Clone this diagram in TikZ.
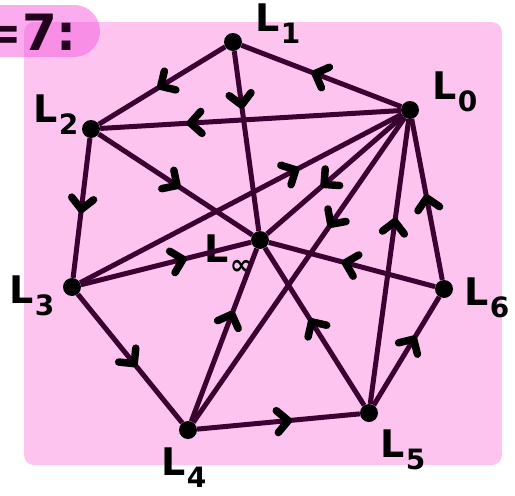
\documentclass[tikz,border=0pt]{standalone}
\usepackage{fontspec}
\setmainfont{DejaVu Sans}
\definecolor{bgpink}{RGB}{253, 196, 240}
\definecolor{tagpink}{RGB}{246, 90, 222}
\definecolor{plum}{RGB}{58, 0, 48}
\usetikzlibrary{decorations.markings}
\tikzset{
	vdot/.style={circle, fill=black, inner sep=0pt, minimum size=18pt},
	lbl/.style={font=\bfseries\fontsize{38}{38}\selectfont, inner sep=0pt, text=black},
	link/.style={draw=plum, line width=5pt},
	arr/.style={link, postaction={decorate}, decoration={markings, mark=at position #1 with {\draw[black, line width=7.5pt, line cap=round, line join=round] (-11pt,11pt) -- (0pt,0pt) -- (-11pt,-11pt);}}},
}
\newcommand{\lsub}[1]{L\kern1pt\raisebox{-0.32em}{\fontsize{28}{28}\selectfont #1}}

\begin{document}
\begin{tikzpicture}[x=1pt, y=-1pt]
		\useasboundingbox (0,0) rectangle (515,496);
		\fill[bgpink, rounded corners=10pt] (24,22) rectangle (502,465);
		\fill[tagpink, opacity=0.5, rounded corners=26pt] (-40,5) rectangle (100,57);
		\node[lbl, anchor=west, text=plum!60!black, font=\bfseries\fontsize{50}{50}\selectfont] (tag) at (-20,32) {=7:};
		% points
		\node[vdot] (l0) at (410,110) {};
		\node[vdot] (l1) at (233,42) {};
		\node[vdot] (l2) at (91,129) {};
		\node[vdot] (l3) at (72,287) {};
		\node[vdot] (l4) at (188,430) {};
		\node[vdot] (l5) at (369,413) {};
		\node[vdot] (l6) at (444,289) {};
		\node[vdot] (linf) at (260,240) {};
		\node[lbl] (t0) at (455,92) {\lsub{0}};
		\node[lbl] (t1) at (278,24) {\lsub{1}};
		\node[lbl] (t2) at (56,115) {\lsub{2}};
		\node[lbl] (t3) at (32,296) {\lsub{3}};
		\node[lbl] (t4) at (184,468) {\lsub{4}};
		\node[lbl] (t5) at (403,450) {\lsub{5}};
		\node[lbl] (t6) at (487,298) {\lsub{6}};
		\node[lbl] (tinf) at (229,255) {\lsub{∞}};
		% lines
		\draw[arr=0.51] (l1) -- (l2);
		\draw[arr=0.30] (l1) -- (linf);
		\draw[arr=0.54] (l0) -- (l1);
		\draw[arr=0.70] (l0) -- (l2);
		\draw[arr=0.51] (l2) -- (l3);
		\draw[arr=0.51] (l2) -- (linf);
		\draw[arr=0.60] (l3) -- (linf);
		\draw[arr=0.67] (l3) -- (l0);
		\draw[arr=0.58] (l0) -- (linf);
		\draw[arr=0.35] (l0) -- (l4);
		\draw[arr=0.64] (l5) -- (l0);
		\draw[arr=0.51] (l6) -- (l0);
		\draw[arr=0.54] (l6) -- (linf);
		\draw[arr=0.61] (l5) -- (l6);
		\draw[arr=0.56] (l4) -- (l5);
		\draw[arr=0.54] (l3) -- (l4);
		\draw[arr=0.62] (l4) -- (linf);
		\draw[arr=0.53] (l5) -- (linf);
	\end{tikzpicture}
\end{document}
